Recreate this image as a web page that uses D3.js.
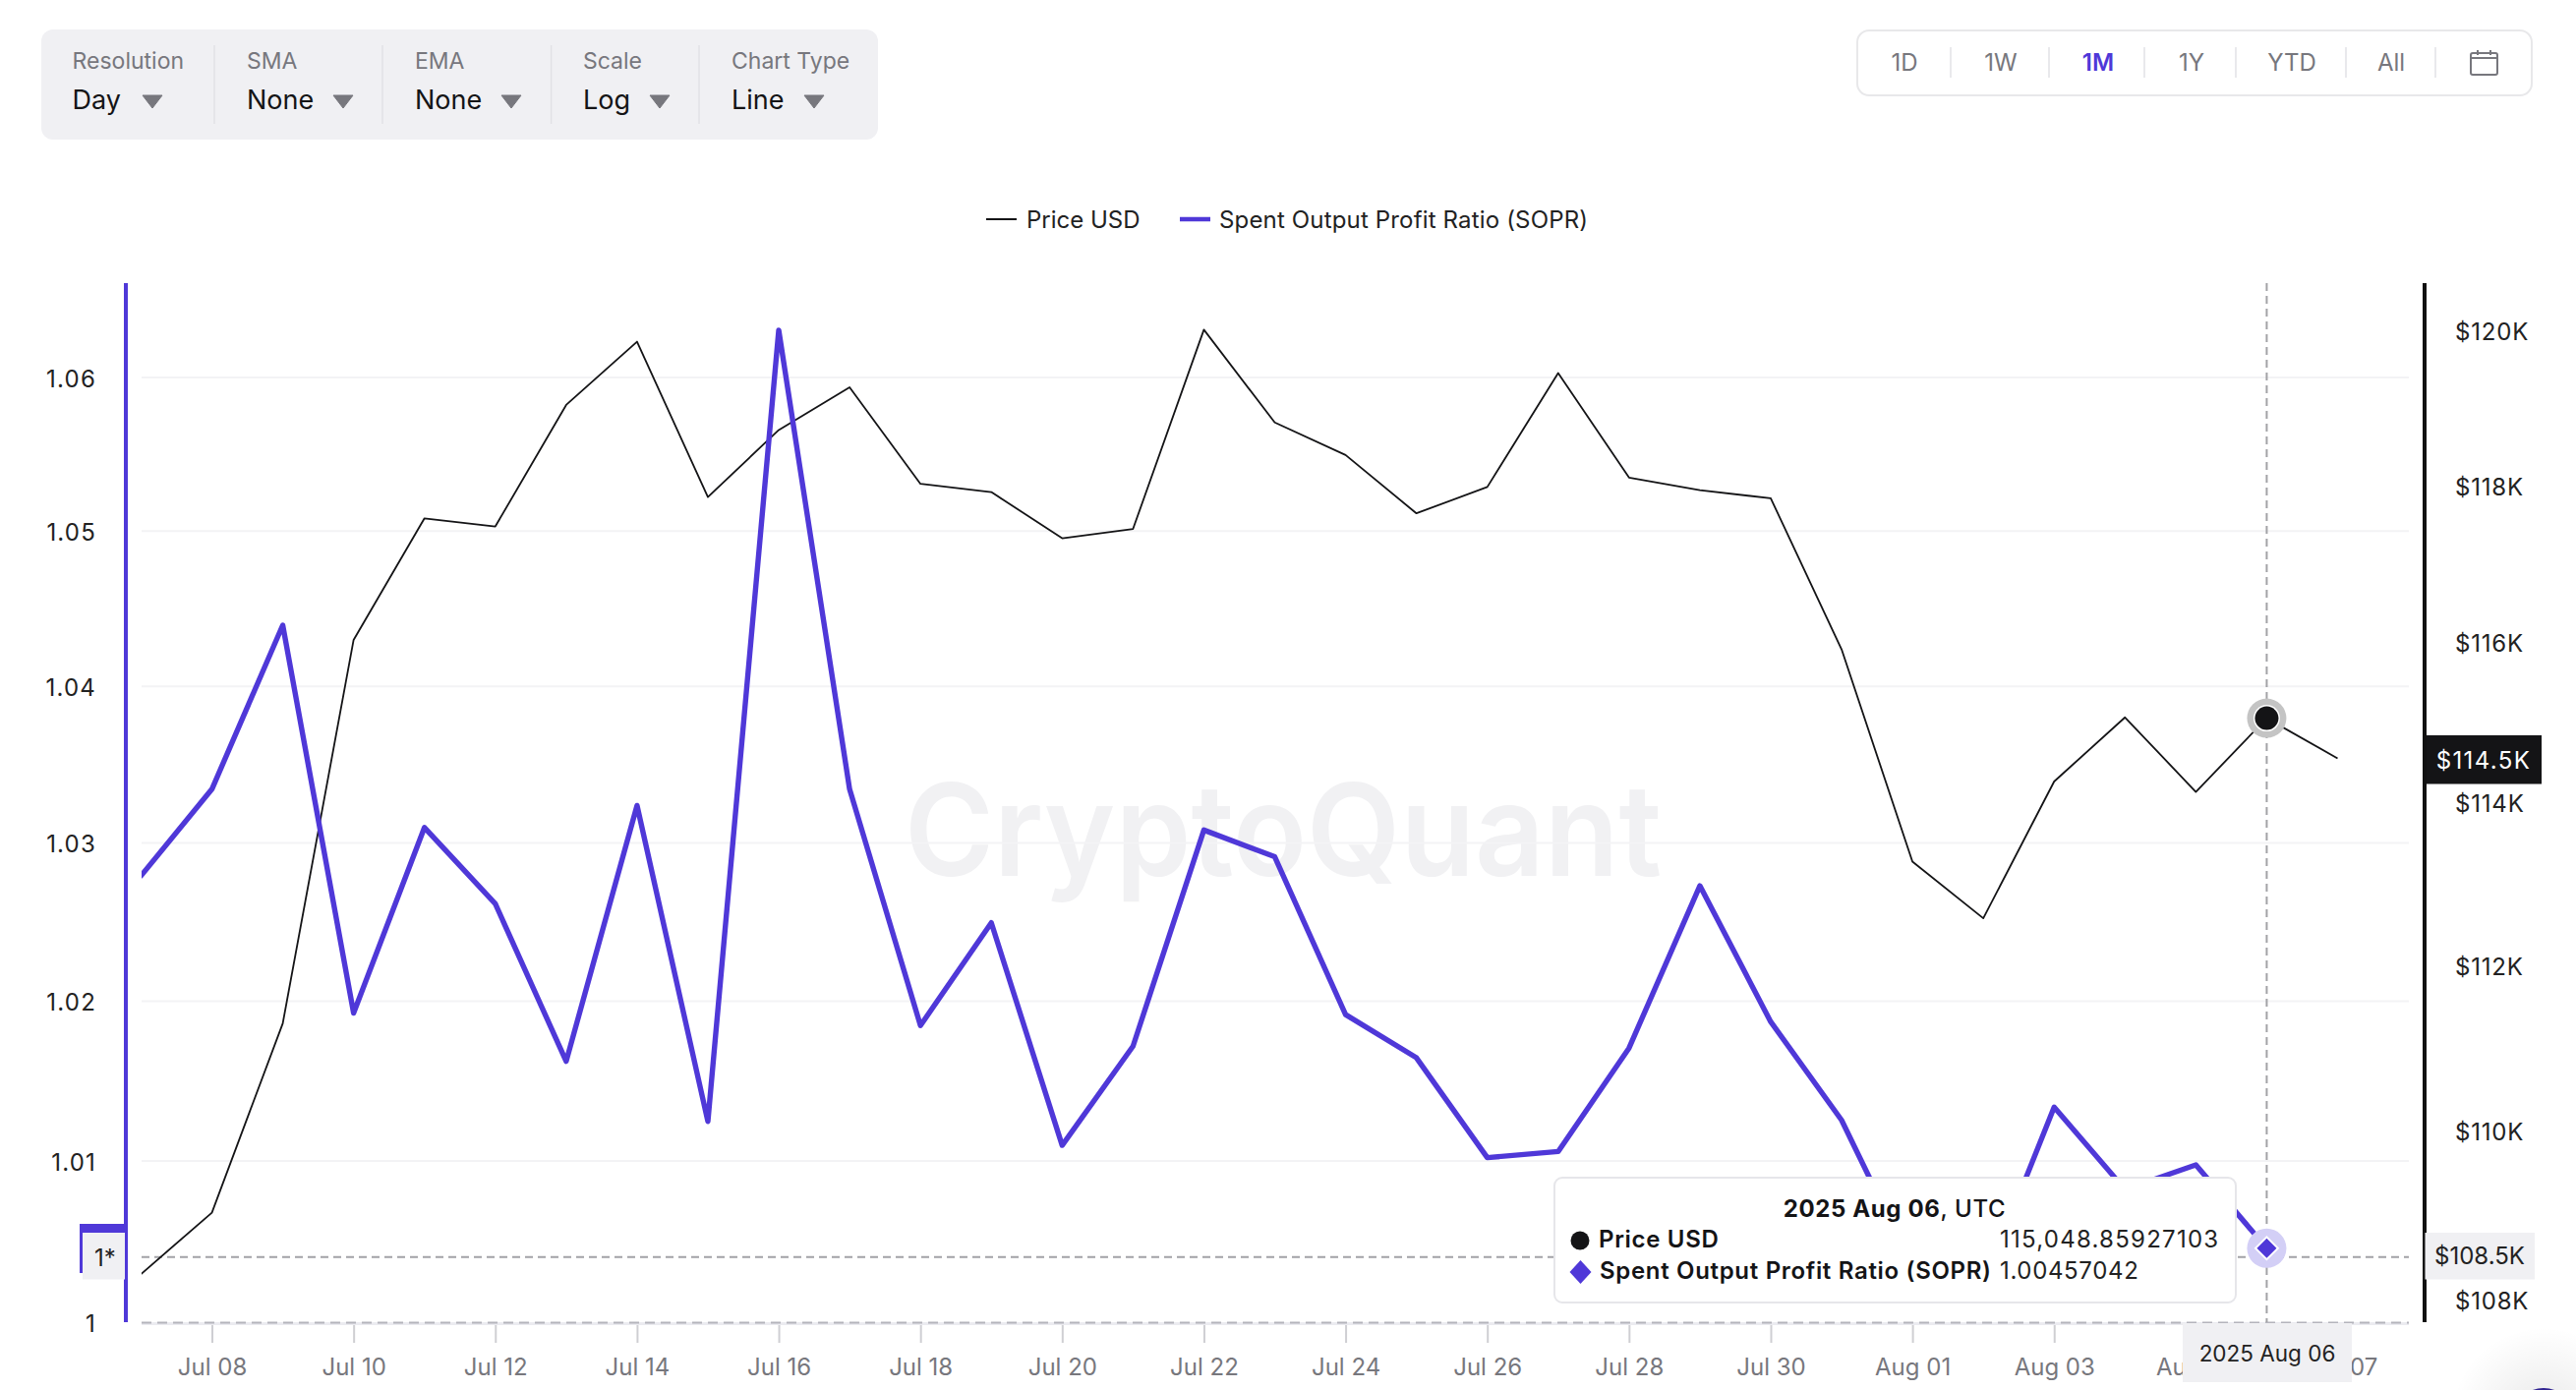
<!DOCTYPE html>
<html>
<head>
<meta charset="utf-8">
<script src="https://cdn.jsdelivr.net/npm/d3@7"></script>
<style>
html,body{margin:0;padding:0;background:#fff}
svg{display:block}
text{font-family:Inter,"Noto Sans",sans-serif}
</style>
</head>
<body>
<div id="chart"></div>
<script>
const dates = ["2025-07-07","2025-07-08","2025-07-09","2025-07-10","2025-07-11","2025-07-12","2025-07-13","2025-07-14","2025-07-15","2025-07-16","2025-07-17","2025-07-18","2025-07-19","2025-07-20","2025-07-21","2025-07-22","2025-07-23","2025-07-24","2025-07-25","2025-07-26","2025-07-27","2025-07-28","2025-07-29","2025-07-30","2025-07-31","2025-08-01","2025-08-02","2025-08-03","2025-08-04","2025-08-05","2025-08-06","2025-08-07"];
const priceUSD = [108300,109026,111293,116033,117577,117473,119036,119858,117850,118712,119264,118019,117914,117322,117442,120014,118810,118389,117641,117979,119450,118099,117938,117834,115914,113268,112573,114260,115059,114131,115048.85927103,114548];
const sopr = [1.02792,1.03342,1.04393,1.01925,1.03098,1.02614,1.01622,1.03238,1.01246,1.06310,1.03342,1.01847,1.02494,1.01097,1.01717,1.03082,1.02912,1.01915,1.01644,1.01020,1.01058,1.01705,1.02728,1.01870,1.01254,1.00346,1.00231,1.01335,1.00822,1.00975,1.00457042];
const xTickDates = ["2025-07-08","2025-07-10","2025-07-12","2025-07-14","2025-07-16","2025-07-18","2025-07-20","2025-07-22","2025-07-24","2025-07-26","2025-07-28","2025-07-30","2025-08-01","2025-08-03","2025-08-05","2025-08-07"];
const soprTicks = [1,1.01,1.02,1.03,1.04,1.05,1.06];
const priceTicks = [108000,110000,112000,114000,116000,118000,120000];
const toolbarLabels = ["Resolution","SMA","EMA","Scale","Chart Type"];
const toolbarValues = ["Day","None","None","Log","Line"];
const rangeLabels = ["1D","1W","1M","1Y","YTD","All"];
const selectedDate = "2025-08-06";
const cursorPrice = 108500;
const cursorPriceLabel = "$108.5K";
const lastPriceLabel = "$114.5K";

const W = 2620, H = 1414;
const PURPLE = "#4f38d8", INK = "#141416", GREY = "#77777d", PANEL = "#f0f0f3", GRID = "#f3f3f5";
const L = {left:144, right:2450, top:288, bottom:1345, leftAxis:128, rightAxis:2466};

const svg = d3.select("#chart").append("svg").attr("width",W).attr("height",H).attr("viewBox",`0 0 ${W} ${H}`);
svg.append("rect").attr("width",W).attr("height",H).attr("fill","#fff");

const pd = d3.utcParse("%Y-%m-%d");
const x = d3.scaleUtc().domain([pd("2025-07-07"),pd("2025-08-07")]).range([143.45,2377.5]);
const yS = d3.scaleLog().domain([1,1.06]).range([1345,384]);
const yP = d3.scaleLog().domain([108000,120000]).range([1322,336.5]);

/* toolbar */
const tb = svg.append("g");
tb.append("rect").attr("x",42).attr("y",30).attr("width",851).attr("height",112).attr("rx",12).attr("fill",PANEL);
const tbX = [73.6,251,422,593,744], tbTri = [155,349,520,671,828], tbSep = [218,389,560.6,711];
toolbarLabels.forEach((t,i)=>{
  tb.append("text").attr("x",tbX[i]).attr("y",62).attr("dy","0.36em").attr("font-size",23).attr("fill",GREY).text(t);
  tb.append("text").attr("x",tbX[i]).attr("y",101).attr("dy","0.36em").attr("font-size",27).attr("fill",INK).text(toolbarValues[i]);
  tb.append("path").attr("d",`M${tbTri[i]-10},97 L${tbTri[i]+10},97 L${tbTri[i]},110 Z`).attr("fill",GREY).attr("stroke",GREY).attr("stroke-linejoin","round");
});
tbSep.forEach(s=>tb.append("line").attr("x1",s).attr("x2",s).attr("y1",46).attr("y2",126).attr("stroke","#e2e2e6").attr("stroke-width",1.5));

/* range buttons */
const rb = svg.append("g");
rb.append("rect").attr("x",1889).attr("y",31).attr("width",686).attr("height",66).attr("rx",12).attr("fill","#fff").attr("stroke","#e8e8ea").attr("stroke-width",2);
const rbX = [1937,2035,2134,2229,2331,2432], rbSep = [1984,2084,2181,2274,2386,2477];
rangeLabels.forEach((t,i)=>{
  rb.append("text").attr("x",rbX[i]).attr("y",63).attr("dy","0.36em").attr("text-anchor","middle").attr("font-size",24)
    .attr("fill",t==="1M"?PURPLE:GREY).attr("font-weight",t==="1M"?600:400).text(t);
});
rbSep.forEach(s=>rb.append("line").attr("x1",s).attr("x2",s).attr("y1",48).attr("y2",79).attr("stroke","#e2e2e6").attr("stroke-width",1.5));
const cal = rb.append("g").attr("fill","none").attr("stroke",GREY).attr("stroke-width",2);
cal.append("rect").attr("x",2513).attr("y",54).attr("width",27).attr("height",22).attr("rx",2);
cal.append("line").attr("x1",2513).attr("x2",2540).attr("y1",59).attr("y2",59);
cal.append("line").attr("x1",2520).attr("x2",2520).attr("y1",51).attr("y2",56);
cal.append("line").attr("x1",2533).attr("x2",2533).attr("y1",51).attr("y2",56);

/* legend */
const lg = svg.append("g");
lg.append("line").attr("x1",1003).attr("x2",1034).attr("y1",223).attr("y2",223).attr("stroke",INK).attr("stroke-width",2);
lg.append("text").attr("x",1044).attr("y",223).attr("dy","0.36em").attr("font-size",24).attr("fill","#222").text("Price USD");
lg.append("line").attr("x1",1200).attr("x2",1231).attr("y1",223).attr("y2",223).attr("stroke",PURPLE).attr("stroke-width",4.5);
lg.append("text").attr("x",1240).attr("y",223).attr("dy","0.36em").attr("font-size",24).attr("letter-spacing",0.16).attr("fill","#222").text("Spent Output Profit Ratio (SOPR)");

/* watermark */
svg.append("text").attr("x",920).attr("y",891).attr("font-size",130).attr("font-weight",600).attr("fill","#f1f1f3")
  .attr("textLength",770).attr("lengthAdjust","spacingAndGlyphs").text("CryptoQuant");

/* gridlines */
svg.append("g").selectAll("line").data(soprTicks.slice(1)).join("line")
  .attr("x1",L.left).attr("x2",L.right).attr("y1",d=>yS(d)).attr("y2",d=>yS(d)).attr("stroke",GRID).attr("stroke-width",2);

/* bottom baseline and x axis */
const xAxis = d3.axisBottom(x).tickValues(xTickDates.map(pd)).tickFormat(d3.utcFormat("%b %d")).tickSize(19).tickPadding(16);
const gx = svg.append("g").attr("transform",`translate(0,1347)`).call(xAxis);
gx.select(".domain").remove();
gx.selectAll("line").attr("stroke","#cfcfd3").attr("stroke-width",2);
gx.selectAll("text").attr("font-size",24).attr("fill",GREY).attr("font-family","Inter");
svg.append("line").attr("x1",L.left).attr("x2",L.right).attr("y1",1346.5).attr("y2",1346.5).attr("stroke","#ebebf0").attr("stroke-width",3);
svg.append("line").attr("x1",L.left).attr("x2",L.right).attr("y1",1345.5).attr("y2",1345.5).attr("stroke","#b4b4bc").attr("stroke-width",2).attr("stroke-dasharray","10 6");

/* left axis */
const fmtS = d => d===1 ? "1" : d3.format(".2f")(d);
const gyl = svg.append("g").attr("transform",`translate(${L.leftAxis},0)`)
  .call(d3.axisLeft(yS).tickValues(soprTicks).tickFormat(fmtS).tickSize(0).tickPadding(30));
gyl.select(".domain").remove();
gyl.selectAll("text").attr("font-size",24).attr("fill","#222").attr("font-family","Inter").attr("letter-spacing",1.2).attr("dy","0.39em");
svg.append("rect").attr("x",126).attr("y",L.top).attr("width",4).attr("height",L.bottom-L.top).attr("fill",PURPLE);

/* right axis */
const gyr = svg.append("g").attr("transform",`translate(2466,0)`)
  .call(d3.axisRight(yP).tickValues(priceTicks).tickFormat(d=>`$${d/1000}K`).tickSize(0).tickPadding(31));
gyr.select(".domain").remove();
gyr.selectAll("text").attr("font-size",24).attr("fill","#222").attr("font-family","Inter").attr("letter-spacing",0.8).attr("dy","0.39em");
svg.append("rect").attr("x",2464).attr("y",L.top).attr("width",4).attr("height",L.bottom-L.top).attr("fill","#111");

/* crosshair */
const cx = x(pd(selectedDate)), cy = yP(cursorPrice);
const cross = svg.append("g").attr("stroke","#a2a2a6").attr("stroke-width",2).attr("stroke-dasharray","8 5");
cross.append("line").attr("x1",cx).attr("x2",cx).attr("y1",L.top).attr("y2",L.bottom);
cross.append("line").attr("x1",L.left).attr("x2",L.right).attr("y1",cy).attr("y2",cy);

/* series */
svg.append("clipPath").attr("id","plot").append("rect").attr("x",L.left).attr("y",L.top).attr("width",L.right-L.left).attr("height",L.bottom-L.top);
const plot = svg.append("g").attr("clip-path","url(#plot)");
const lineOf = (vals,y)=>d3.line().x((d,i)=>x(pd(dates[i]))).y(d=>y(d))(vals);
plot.append("path").attr("d",lineOf(priceUSD,yP)).attr("fill","none").attr("stroke",INK).attr("stroke-width",1.8).attr("stroke-linejoin","round");
plot.append("path").attr("d",lineOf(sopr,yS)).attr("fill","none").attr("stroke",PURPLE).attr("stroke-width",5.4).attr("stroke-linejoin","round").attr("stroke-linecap","round");

/* tooltip */
const tip = svg.append("g");
tip.append("rect").attr("x",1581).attr("y",1198).attr("width",693).attr("height",127).attr("rx",8).attr("fill","#fff").attr("stroke","#e6e6ea").attr("stroke-width",2);
const tt = tip.append("text").attr("x",1927).attr("y",1229).attr("dy","0.36em").attr("text-anchor","middle").attr("font-size",24).attr("letter-spacing",0.6).attr("fill",INK);
tt.append("tspan").attr("font-weight",700).text("2025 Aug 06");
tt.append("tspan").attr("font-weight",500).text(", UTC");
tip.append("circle").attr("cx",1607).attr("cy",1262).attr("r",9.5).attr("fill",INK);
tip.append("text").attr("x",1626).attr("y",1260.5).attr("dy","0.36em").attr("font-size",24).attr("font-weight",600).attr("letter-spacing",0.68).attr("fill",INK).text("Price USD");
tip.append("text").attr("x",2034).attr("y",1260.5).attr("dy","0.36em").attr("font-size",24).attr("letter-spacing",1.25).attr("fill","#222").text(d3.format(",.8f")(priceUSD[30]));
tip.append("path").attr("d","M1607.5,1282 L1618.5,1294 L1607.5,1306 L1596.5,1294 Z").attr("fill",PURPLE);
tip.append("text").attr("x",1627).attr("y",1292.5).attr("dy","0.36em").attr("font-size",24).attr("font-weight",600).attr("letter-spacing",0.68).attr("fill",INK).text("Spent Output Profit Ratio (SOPR)");
tip.append("text").attr("x",2034).attr("y",1292.5).attr("dy","0.36em").attr("font-size",24).attr("letter-spacing",0.65).attr("fill","#222").text(sopr[30].toFixed(8));

/* hover markers */
const py = yP(priceUSD[30]), sy = yS(sopr[30]);
svg.append("circle").attr("cx",cx).attr("cy",py).attr("r",20).attr("fill","#c4c4c4");
svg.append("circle").attr("cx",cx).attr("cy",py).attr("r",13.5).attr("fill","#fff");
svg.append("circle").attr("cx",cx).attr("cy",py).attr("r",12).attr("fill",INK);
svg.append("circle").attr("cx",cx).attr("cy",sy).attr("r",20).attr("fill","#d3cff6");
svg.append("path").attr("d",d3.symbol(d3.symbolSquare,260)()).attr("transform",`translate(${cx},${sy}) rotate(45)`).attr("fill",PURPLE).attr("stroke","#fff").attr("stroke-width",2);

/* axis flags */
svg.append("rect").attr("x",2468).attr("y",748).attr("width",117).attr("height",49.5).attr("fill","#141416");
svg.append("text").attr("x",2526).attr("y",773).attr("dy","0.36em").attr("text-anchor","middle").attr("font-size",24).attr("letter-spacing",1.4).attr("fill","#fff").text(lastPriceLabel);
svg.append("rect").attr("x",2466.5).attr("y",1254).attr("width",111.5).attr("height",47.5).attr("fill",PANEL);
svg.append("text").attr("x",2522).attr("y",1277.5).attr("dy","0.36em").attr("text-anchor","middle").attr("font-size",24).attr("fill","#222").text(cursorPriceLabel);
svg.append("rect").attr("x",81).attr("y",1245).attr("width",47).attr("height",50).attr("fill",PURPLE);
svg.append("rect").attr("x",84).attr("y",1254).attr("width",43).attr("height",47.5).attr("fill",PANEL);
svg.append("text").attr("x",96).attr("y",1279).attr("dy","0.36em").attr("font-size",24).attr("fill","#222").text("1*");
svg.append("rect").attr("x",2220).attr("y",1346).attr("width",172).attr("height",60).attr("fill",PANEL);
svg.append("text").attr("x",2306).attr("y",1377).attr("dy","0.36em").attr("text-anchor","middle").attr("font-size",22.5).attr("fill","#222").text("2025 Aug 06");

/* page widget peeking in at the corner */
const shadow = svg.append("defs").append("radialGradient").attr("id","cornerShadow");
shadow.append("stop").attr("offset","0%").attr("stop-color","#000").attr("stop-opacity",0.09);
shadow.append("stop").attr("offset","100%").attr("stop-color","#000").attr("stop-opacity",0);
svg.append("circle").attr("cx",2587).attr("cy",1445).attr("r",95).attr("fill","url(#cornerShadow)");
svg.append("circle").attr("cx",2587).attr("cy",1444).attr("r",32).attr("fill","#2f2391");
</script>
</body>
</html>
